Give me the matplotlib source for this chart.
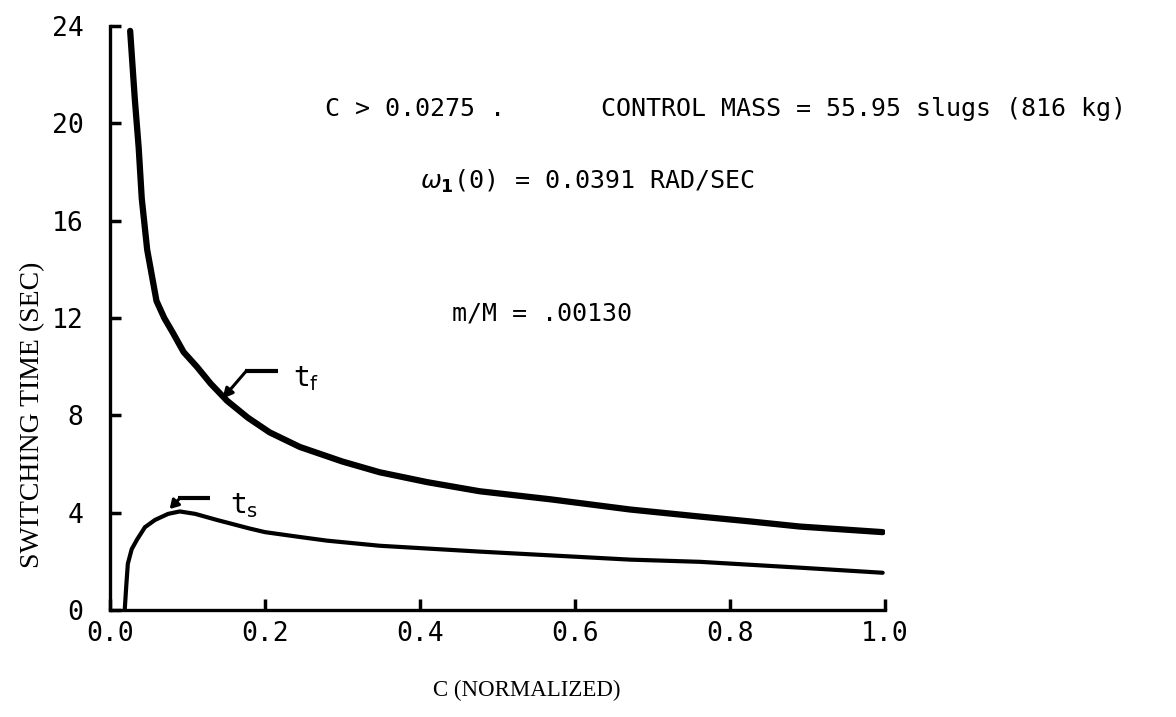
import matplotlib
matplotlib.use("Agg")
import matplotlib.pyplot as plt

# ---- data ----
c_tf = [0.026, 0.032, 0.037, 0.041, 0.048, 0.060, 0.070, 0.081, 0.095, 0.112,
        0.130, 0.151, 0.178, 0.206, 0.245, 0.300, 0.348, 0.410, 0.477, 0.568,
        0.671, 0.761, 0.826, 0.890, 0.997]
t_f = [23.8, 21.0, 19.0, 16.9, 14.8, 12.7, 12.0, 11.4, 10.6, 10.0,
       9.3, 8.6, 7.9, 7.3, 6.7, 6.1, 5.66, 5.25, 4.88, 4.55,
       4.13, 3.84, 3.64, 3.43, 3.2]

c_ts = [0.019, 0.020, 0.021, 0.023, 0.028, 0.035, 0.045, 0.058, 0.075, 0.090,
        0.110, 0.138, 0.180, 0.200, 0.245, 0.280, 0.348, 0.477, 0.671, 0.761,
        0.890, 0.997]
t_s = [0.0, 0.5, 1.0, 1.9, 2.5, 2.9, 3.4, 3.7, 3.95, 4.05,
       3.95, 3.7, 3.35, 3.2, 3.0, 2.85, 2.64, 2.40, 2.07, 1.98,
       1.74, 1.53]

x_ticks = [0.0, 0.2, 0.4, 0.6, 0.8, 1.0]
x_ticklabels = ["0.0", "0.2", "0.4", "0.6", "0.8", "1.0"]
y_ticks = [0, 4, 8, 12, 16, 20, 24]
y_ticklabels = ["0", "4", "8", "12", "16", "20", "24"]

MONO = "DejaVu Sans Mono"
SERIF = "Liberation Serif"

fig = plt.figure(figsize=(11.76, 7.17), dpi=100)
ax = fig.add_axes([110/1176, 1-610/717, 775/1176, 584/717])

ax.plot(c_tf, t_f, color="black", lw=4.5, solid_capstyle="round", solid_joinstyle="round")
ax.plot(c_ts, t_s, color="black", lw=3.0, solid_capstyle="round", solid_joinstyle="round")

ax.set_xlim(0, 1.0)
ax.set_ylim(0, 24)
ax.set_xticks(x_ticks)
ax.set_xticklabels(x_ticklabels, fontfamily=MONO, fontsize=19)
ax.set_yticks(y_ticks)
ax.set_yticklabels(y_ticklabels, fontfamily=MONO, fontsize=19)
ax.tick_params(axis="both", direction="in", length=8, width=2.5, color="black")
ax.tick_params(axis="x", pad=8)
ax.tick_params(axis="y", pad=19)

for s in ["top", "right"]:
    ax.spines[s].set_visible(False)
for s in ["left", "bottom"]:
    ax.spines[s].set_linewidth(2.4)

ax.set_ylabel("SWITCHING TIME (SEC)", fontfamily=SERIF, fontsize=20)
ax.yaxis.set_label_coords(-0.084, 0.334)
ax.set_xlabel("C (NORMALIZED)", fontfamily=SERIF, fontsize=16.5)
ax.xaxis.set_label_coords(0.538, -0.12)

# ---- annotations ----
ax.text(0.278, 20.6, "C > 0.0275 .", fontfamily=MONO, fontsize=18, va="center", ha="left")
ax.text(0.634, 20.6, "CONTROL MASS = 55.95 slugs (816 kg)", fontfamily=MONO,
        fontsize=18, va="center", ha="left")
ax.text(0.400, 17.6, r"$\omega_\mathbf{1}$(0) = 0.0391 RAD/SEC", fontfamily=MONO,
        fontsize=18, va="center", ha="left")
ax.text(0.441, 12.2, "m/M = .00130", fontfamily=MONO, fontsize=18, va="center", ha="left")

# t_f leader
ax.plot([0.174, 0.217], [9.83, 9.83], color="black", lw=3.0, solid_capstyle="butt")
ax.annotate("", xy=(0.145, 8.68), xytext=(0.176, 9.83),
            arrowprops=dict(arrowstyle="-|>,head_length=0.6,head_width=0.3",
                            color="black", lw=2.2, shrinkA=0, shrinkB=0))
ax.text(0.236, 9.5, r"t$_\mathrm{f}$", fontfamily=MONO, fontsize=20, va="center", ha="left")

# t_s leader
ax.plot([0.088, 0.129], [4.59, 4.59], color="black", lw=3.0, solid_capstyle="butt")
ax.annotate("", xy=(0.077, 4.15), xytext=(0.090, 4.59),
            arrowprops=dict(arrowstyle="-|>,head_length=0.5,head_width=0.3",
                            color="black", lw=2.2, shrinkA=0, shrinkB=0))
ax.text(0.155, 4.3, r"t$_\mathrm{s}$", fontfamily=MONO, fontsize=20, va="center", ha="left")

fig.savefig("out.png", dpi=100)
